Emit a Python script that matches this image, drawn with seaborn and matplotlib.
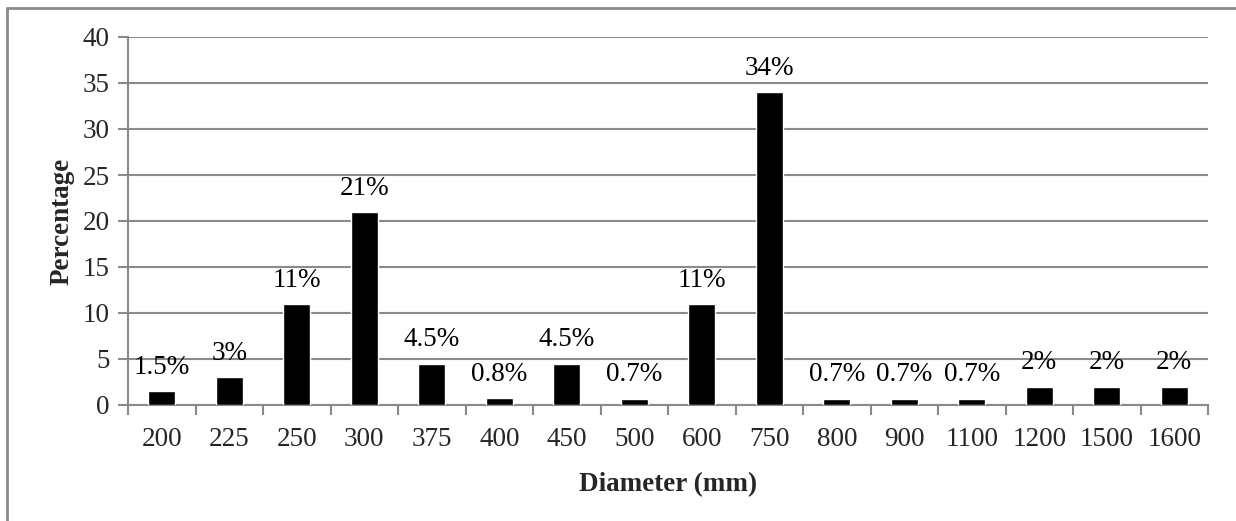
import matplotlib
matplotlib.use("Agg")
import matplotlib.pyplot as plt
import seaborn as sns
import pandas as pd
from matplotlib.lines import Line2D
from matplotlib.ticker import FixedLocator, MultipleLocator

# Pipe diameter distribution
diameters = ["200", "225", "250", "300", "375", "400", "450", "500",
             "600", "750", "800", "900", "1100", "1200", "1500", "1600"]
percentages = [1.5, 3, 11, 21, 4.5, 0.8, 4.5, 0.7,
               11, 34, 0.7, 0.7, 0.7, 2, 2, 2]
value_labels = ["1.5%", "3%", "11%", "21%", "4.5%", "0.8%", "4.5%", "0.7%",
                "11%", "34%", "0.7%", "0.7%", "0.7%", "2%", "2%", "2%"]

df = pd.DataFrame({"Diameter": diameters, "Percentage": percentages})

sns.set_theme(style="white")
plt.rcParams["font.family"] = ["Liberation Serif", "DejaVu Serif"]

W, H = 1236, 521
fig = plt.figure(figsize=(W / 100, H / 100), dpi=100)
ax = fig.add_axes([128 / W, 1 - 405 / H, (1208 - 128) / W, (405 - 37) / H])

grid_c = "#8a8a8a"
sns.barplot(data=df, x="Diameter", y="Percentage", order=diameters,
            color="black", width=0.4, saturation=1, ax=ax, zorder=3)

ax.bar_label(ax.containers[0], labels=value_labels, padding=8,
             fontsize=19.5, color="black")

ax.set_ylim(0, 40)
ax.set_xlim(-0.5, len(diameters) - 0.5)
ax.yaxis.set_major_locator(MultipleLocator(5))
ax.grid(axis="y", color=grid_c, linewidth=1.5, zorder=0)
ax.set_axisbelow(True)

for side in ("top", "right"):
    ax.spines[side].set_visible(False)
for side in ("left", "bottom"):
    ax.spines[side].set_color(grid_c)
    ax.spines[side].set_linewidth(1.5)

# category boundary ticks on the x-axis, labels centred under bars
ax.xaxis.set_minor_locator(FixedLocator([i - 0.5 for i in range(len(diameters) + 1)]))
ax.tick_params(axis="x", which="major", length=0, pad=16, labelsize=19.5)
ax.tick_params(axis="x", which="minor", length=7, width=1.5, color=grid_c,
               direction="out", bottom=True)
ax.tick_params(axis="y", which="major", length=7, width=1.5, color=grid_c,
               direction="out", left=True, pad=6, labelsize=19.5)

ax.set_xlabel("Diameter (mm)", fontsize=19.5, fontweight="bold", labelpad=14)
ax.set_ylabel("Percentage", fontsize=19.5, fontweight="bold", labelpad=6)

# chart area border (top and left edges)
fx0, fy0 = 7 / W, 1 - 8 / H
fig.add_artist(Line2D([fx0, 1.01], [fy0, fy0], transform=fig.transFigure,
                      color="#8a8a8a", linewidth=2))
fig.add_artist(Line2D([fx0, fx0], [-0.01, fy0], transform=fig.transFigure,
                      color="#8a8a8a", linewidth=2))

fig.savefig("out.png", dpi=100, facecolor="white")
